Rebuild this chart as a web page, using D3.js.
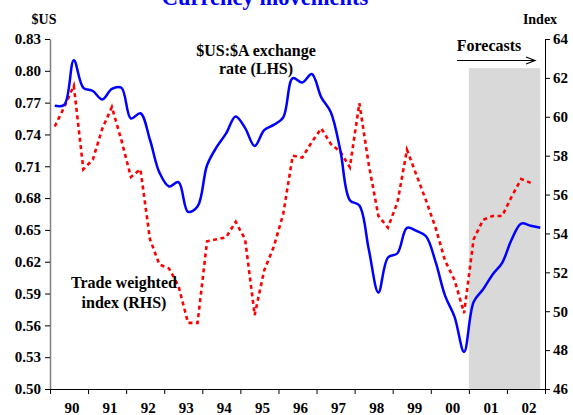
<!DOCTYPE html>
<html>
<head>
<meta charset="utf-8">
<script src="https://cdn.jsdelivr.net/npm/d3@7"></script>
<style>
  body { margin: 0; background: #fff; }
  svg { display: block; }
  text { font-family: "Liberation Serif", "Times New Roman", serif; font-weight: bold; }
</style>
</head>
<body>
<svg id="chart" width="573" height="415"></svg>
<script>
// Year labels on the time axis (quarterly data, 1990Q1 to 2002Q4)
const firstYear = 1990;
const yearLabels = ["90", "91", "92", "93", "94", "95", "96", "97", "98", "99", "00", "01", "02"];

// $US per $A, quarterly (left-hand scale)
const exchangeRate = [
  0.767, 0.768, 0.810, 0.784, 0.781, 0.773, 0.783, 0.784,
  0.755, 0.760, 0.735, 0.704, 0.691, 0.695, 0.667, 0.672,
  0.711, 0.728, 0.741, 0.757, 0.746, 0.729, 0.744, 0.749,
  0.756, 0.793, 0.789, 0.797, 0.775, 0.761, 0.725, 0.678,
  0.673, 0.631, 0.591, 0.624, 0.628, 0.652, 0.649, 0.644,
  0.620, 0.588, 0.568, 0.535, 0.582, 0.594, 0.608, 0.619,
  0.641, 0.656, 0.654, 0.652
];

// Trade weighted index, quarterly (right-hand scale)
const tradeWeighted = [
  59.5, 60.5, 61.6, 57.3, 57.8, 59.4, 60.5, 58.8,
  56.9, 57.3, 53.7, 52.4, 52.2, 51.3, 49.4, 49.4,
  53.6, 53.7, 53.8, 54.6, 53.7, 49.8, 52.1, 53.3,
  55.0, 58.0, 57.9, 58.7, 59.4, 58.6, 58.2, 57.4,
  60.7, 57.5, 54.9, 54.3, 55.6, 58.3, 57.0, 55.7,
  54.3, 52.6, 51.6, 49.9, 53.7, 54.7, 54.9, 54.9,
  55.9, 56.8, 56.6, null
];

const leftTicks = [0.50, 0.53, 0.56, 0.59, 0.62, 0.65, 0.68, 0.71, 0.74, 0.77, 0.80, 0.83];
const rightTicks = [46, 48, 50, 52, 54, 56, 58, 60, 62, 64];

// Forecast period shading: from the start of 2001 to the last quarter, up to 62.5 on the index scale
const forecastStartYear = 2001;
const forecastTop = 62.5;

const svg = d3.select("#chart");
const margin = { left: 50, right: 545, top: 39, bottom: 389 };

const quarterTime = i => firstYear + (i + 0.5) / 4;
const lastYear = firstYear + yearLabels.length;

const x = d3.scaleLinear().domain([firstYear, lastYear]).range([margin.left, margin.right]);
const yL = d3.scaleLinear().domain([0.50, 0.83]).range([margin.bottom, margin.top]);
const yR = d3.scaleLinear().domain([46, 64]).range([margin.bottom, margin.top]);

// Forecast shading
const lastT = quarterTime(exchangeRate.length - 1);
svg.append("rect")
  .attr("x", x(forecastStartYear))
  .attr("y", yR(forecastTop))
  .attr("width", x(lastT) - x(forecastStartYear))
  .attr("height", yR(46) - yR(forecastTop))
  .attr("fill", "#d9d9d9");

// Axes
const tickFont = "15px";

const leftAxis = svg.append("g")
  .attr("transform", `translate(${margin.left},0)`)
  .call(d3.axisLeft(yL).tickValues(leftTicks).tickFormat(d3.format(".2f")).tickSize(5).tickSizeOuter(0).tickPadding(4));
leftAxis.select(".domain").attr("stroke", "#808080").attr("stroke-width", 1.5);
leftAxis.selectAll(".tick line").attr("stroke", "#000");

const rightAxis = svg.append("g")
  .attr("transform", `translate(${margin.right},0)`)
  .call(d3.axisRight(yR).tickValues(rightTicks).tickFormat(d3.format("d")).tickSize(5).tickSizeOuter(0).tickPadding(3));

const bottomAxis = svg.append("g")
  .attr("transform", `translate(0,${margin.bottom})`)
  .call(d3.axisBottom(x).tickValues(d3.range(firstYear, lastYear + 1)).tickFormat("").tickSize(5).tickSizeOuter(0));

[leftAxis, rightAxis].forEach(g => {
  g.selectAll("text").attr("font-size", tickFont).attr("font-family", "Liberation Serif, serif")
    .attr("font-weight", "bold").attr("fill", "#000");
});

svg.append("g").selectAll("text")
  .data(yearLabels)
  .join("text")
  .attr("x", (d, i) => x(firstYear + i + 0.5) + 3)
  .attr("y", 413)
  .attr("text-anchor", "middle")
  .attr("font-size", tickFont)
  .text(d => d);

// Series lines
const twiLine = d3.line()
  .defined(d => d != null)
  .x((d, i) => x(quarterTime(i)))
  .y(d => yR(d));

svg.append("path")
  .datum(tradeWeighted)
  .attr("d", twiLine)
  .attr("fill", "none")
  .attr("stroke", "#ff0000")
  .attr("stroke-width", 2.6)
  .attr("stroke-dasharray", "4,3.5");

const fxLine = d3.line()
  .x((d, i) => x(quarterTime(i)))
  .y(d => yL(d))
  .curve(d3.curveCatmullRom.alpha(0.5));

svg.append("path")
  .datum(exchangeRate)
  .attr("d", fxLine)
  .attr("fill", "none")
  .attr("stroke", "#0000ff")
  .attr("stroke-width", 2.5);

// Title and annotations
svg.append("text")
  .attr("x", 265).attr("y", 5)
  .attr("text-anchor", "middle")
  .attr("font-size", "22.5px")
  .attr("fill", "#0000ff")
  .text("Currency movements");

svg.append("text").attr("x", 44).attr("y", 24).attr("text-anchor", "middle").attr("font-size", "14px").text("$US");
svg.append("text").attr("x", 540).attr("y", 24).attr("text-anchor", "middle").attr("font-size", "14px").text("Index");

const note = (lines, cx, y0, dy) => {
  const t = svg.append("text").attr("text-anchor", "middle").attr("font-size", "16px");
  lines.forEach((s, k) => t.append("tspan").attr("x", cx).attr("y", y0 + k * dy).text(s));
};
note(["$US:$A exchange", "rate (LHS)"], 256, 56, 18);
note(["Trade weighted", "index (RHS)"], 124, 288, 20);

svg.append("text").attr("x", 489).attr("y", 51).attr("text-anchor", "middle").attr("font-size", "16px").text("Forecasts");

// Forecast arrow
svg.append("line")
  .attr("x1", 457).attr("y1", 60.5).attr("x2", 534).attr("y2", 60.5)
  .attr("stroke", "#000").attr("stroke-width", 1.2);
svg.append("path")
  .attr("d", "M526,57 L535,60.5 L526,64")
  .attr("fill", "none").attr("stroke", "#000").attr("stroke-width", 1.2);
</script>
</body>
</html>
